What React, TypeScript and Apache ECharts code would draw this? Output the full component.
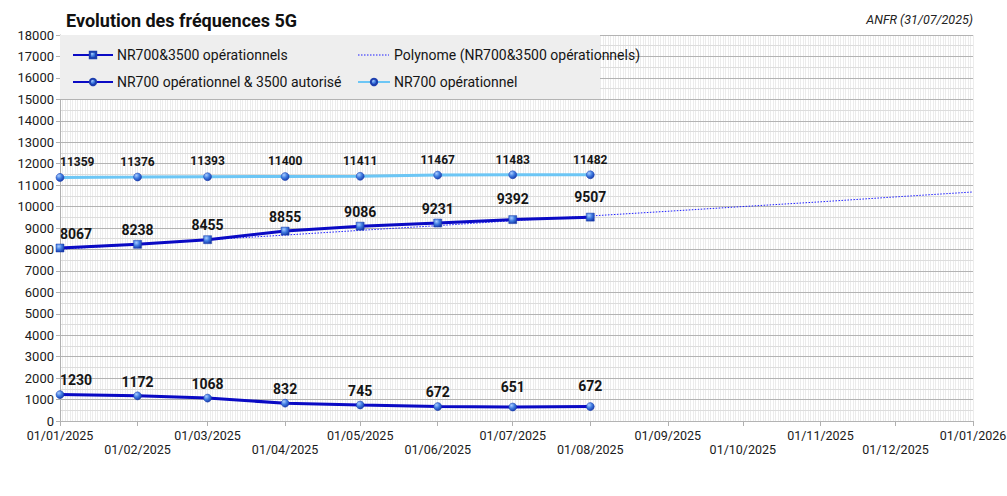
import React, { useEffect, useRef } from "react";
import * as echarts from "echarts";

const dates = ["2025-01-01", "2025-02-01", "2025-03-01", "2025-04-01", "2025-05-01", "2025-06-01", "2025-07-01", "2025-08-01"];
const nr700_3500_op = [8067, 8238, 8455, 8855, 9086, 9231, 9392, 9507];
const nr700_op_3500_aut = [1230, 1172, 1068, 832, 745, 672, 651, 672];
const nr700_op = [11359, 11376, 11393, 11400, 11411, 11467, 11483, 11482];
const trendDates = ["2025-01-01", "2025-02-01", "2025-03-01", "2025-04-01", "2025-05-01", "2025-06-01", "2025-07-01", "2025-08-01", "2025-09-01", "2025-10-01", "2025-11-01", "2025-12-01", "2026-01-01"];
const trendValues = [8010, 8230, 8450, 8670, 8890, 9110, 9340, 9560, 9780, 10000, 10220, 10450, 10680];
const tickDates = ["2025-01-01", "2025-02-01", "2025-03-01", "2025-04-01", "2025-05-01", "2025-06-01", "2025-07-01", "2025-08-01", "2025-09-01", "2025-10-01", "2025-11-01", "2025-12-01", "2026-01-01"];

const SERIES_A = "NR700&3500 opérationnels";
const SERIES_B = "NR700 opérationnel & 3500 autorisé";
const SERIES_C = "NR700 opérationnel";
const SERIES_T = "Polynome (NR700&3500 opérationnels)";

const DAY = 86400000;
const ts = (s: string) => {
  const [y, m, d] = s.split("-").map(Number);
  return Date.UTC(y, m - 1, d) / DAY;
};
const pad = (n: number) => (n < 10 ? "0" + n : "" + n);

const labelLift = [0, 0, 0, 0, 0, 0, -6, -6];

const sphere = () =>
  new echarts.graphic.RadialGradient(0.35, 0.3, 0.75, [
    { offset: 0, color: "#a9ccff" },
    { offset: 0.5, color: "#3f7be0" },
    { offset: 1, color: "#1638a8" },
  ]);

function build(values: number[], lift: boolean) {
  return values.map((v, i) => {
    const item: any = { value: [ts(dates[i]), v] };
    const off = lift ? labelLift[i] : 0;
    if (i === 0) item.label = { align: "left", offset: [0, off] };
    else if (off) item.label = { offset: [0, off] };
    return item;
  });
}

export default function App() {
  const ref = useRef<HTMLDivElement>(null);
  useEffect(() => {
    document.body.style.margin = "0";
    if (!ref.current) return;
    const chart = echarts.init(ref.current, undefined, { renderer: "svg" });
    const font = "Roboto";
    const darkLabel = { show: true, position: "top", distance: 3, fontSize: 14, fontWeight: "bold", color: "#151515", fontFamily: font };
    const xMin = ts(tickDates[0]);
    const xMax = ts(tickDates[tickDates.length - 1]);
    chart.setOption({
      animation: false,
      backgroundColor: "#ffffff",
      textStyle: { fontFamily: font },
      title: [
        { text: "Evolution des fréquences 5G", left: 66, top: 11, padding: 0, textStyle: { fontSize: 18, fontWeight: "bold", color: "#111", fontFamily: font } },
        { text: "ANFR (31/07/2025)", right: 34, top: 13, padding: 0, textStyle: { fontSize: 12.5, fontStyle: "italic", fontWeight: "normal", color: "#222", fontFamily: font } },
      ],
      graphic: [
        { type: "rect", left: 60, top: 35, shape: { width: 540, height: 64 }, style: { fill: "#eeeeee" }, z: 3 },
        { type: "line", shape: { x1: 358, y1: 55, x2: 389, y2: 55 }, style: { stroke: "#1f1fff", lineWidth: 1, lineDash: [1.5, 1.5] }, z: 6 },
      ],
      legend: [
        {
          left: 72, top: 48, orient: "vertical", itemWidth: 40, itemHeight: 8, itemGap: 13, padding: 0, z: 5,
          data: [SERIES_A, SERIES_B],
          textStyle: { fontSize: 14, color: "#151515", fontFamily: font, padding: [0, 0, 0, -1] },
        },
        {
          left: 357, top: 48, orient: "vertical", itemWidth: 32, itemHeight: 8, itemGap: 13, padding: 0, z: 5,
          data: [{ name: SERIES_T, icon: "none" }, SERIES_C],
          textStyle: { fontSize: 14, color: "#151515", fontFamily: font, padding: [0, 0, 0, -1] },
        },
      ],
      grid: { left: 60, right: 34, top: 35, bottom: 75, containLabel: false, outerBoundsMode: "none" },
      xAxis: [
        {
          type: "value",
          min: xMin,
          max: xMax,
          axisLine: { show: true, lineStyle: { color: "#b0b0b0", width: 1 } },
          axisTick: { show: true, length: 5, lineStyle: { color: "#b0b0b0" }, customValues: tickDates.map(ts) },
          axisLabel: {
            show: true,
            customValues: tickDates.map(ts),
            fontSize: 12.5,
            color: "#1a1a1a",
            fontFamily: font,
            margin: 7,
            lineHeight: 14,
            formatter: (val: number) => {
              const d = new Date(Math.round(val) * DAY);
              const s = pad(d.getUTCDate()) + "/" + pad(d.getUTCMonth() + 1) + "/" + d.getUTCFullYear();
              return d.getUTCMonth() % 2 === 1 ? "\n" + s : s;
            },
          },
          splitLine: { show: false },
        },
        {
          type: "value",
          min: 0,
          max: 365,
          interval: 1,
          position: "bottom",
          axisLine: { show: false },
          axisTick: { show: false },
          axisLabel: { show: false },
          splitLine: { show: true, lineStyle: { color: "#ececec", width: 1 } },
        },
      ],
      yAxis: {
        type: "value",
        min: 0,
        max: 18000,
        interval: 1000,
        axisLine: { show: true, lineStyle: { color: "#b0b0b0" } },
        axisTick: { show: true, length: 4, lineStyle: { color: "#b0b0b0" } },
        axisLabel: { fontSize: 13, color: "#1a1a1a", fontFamily: font, margin: 6, formatter: (v: number) => String(v) },
        splitLine: { show: true, lineStyle: { color: "#b3b3b3", width: 1 } },
        minorTick: { show: false, splitNumber: 2 },
        minorSplitLine: { show: true, lineStyle: { color: "#dcdcdc", width: 1 } },
        z: 1,
      },
      series: [
        {
          name: SERIES_T,
          type: "line",
          data: trendDates.map((d, i) => [ts(d), trendValues[i]]),
          symbol: "none",
          lineStyle: { color: "#1f1fff", width: 1, type: [1.5, 1.5] },
          itemStyle: { color: "#1f1fff" },
          z: 2,
        },
        {
          name: SERIES_A,
          type: "line",
          data: build(nr700_3500_op, true),
          symbol: "rect",
          symbolSize: 8,
          lineStyle: { color: "#0a0ac4", width: 3 },
          itemStyle: { color: sphere(), borderColor: "#1d3fae", borderWidth: 0.5 },
          label: darkLabel,
          z: 3,
        },
        {
          name: SERIES_B,
          type: "line",
          data: build(nr700_op_3500_aut, true),
          symbol: "circle",
          symbolSize: 8,
          lineStyle: { color: "#0a0ac4", width: 3 },
          itemStyle: { color: sphere(), borderColor: "#1d3fae", borderWidth: 0.5 },
          label: darkLabel,
          z: 3,
        },
        {
          name: SERIES_C,
          type: "line",
          data: build(nr700_op, false),
          symbol: "circle",
          symbolSize: 8,
          lineStyle: { color: "#6cc6f5", width: 3 },
          itemStyle: { color: sphere(), borderColor: "#1d3fae", borderWidth: 0.5 },
          label: { show: true, position: "top", distance: 5, fontSize: 12, fontWeight: "bold", color: "#151515", fontFamily: font },
          z: 3,
        },
      ],
    });
    return () => chart.dispose();
  }, []);
  return <div ref={ref} style={{ width: 1007, height: 496 }} />;
}
